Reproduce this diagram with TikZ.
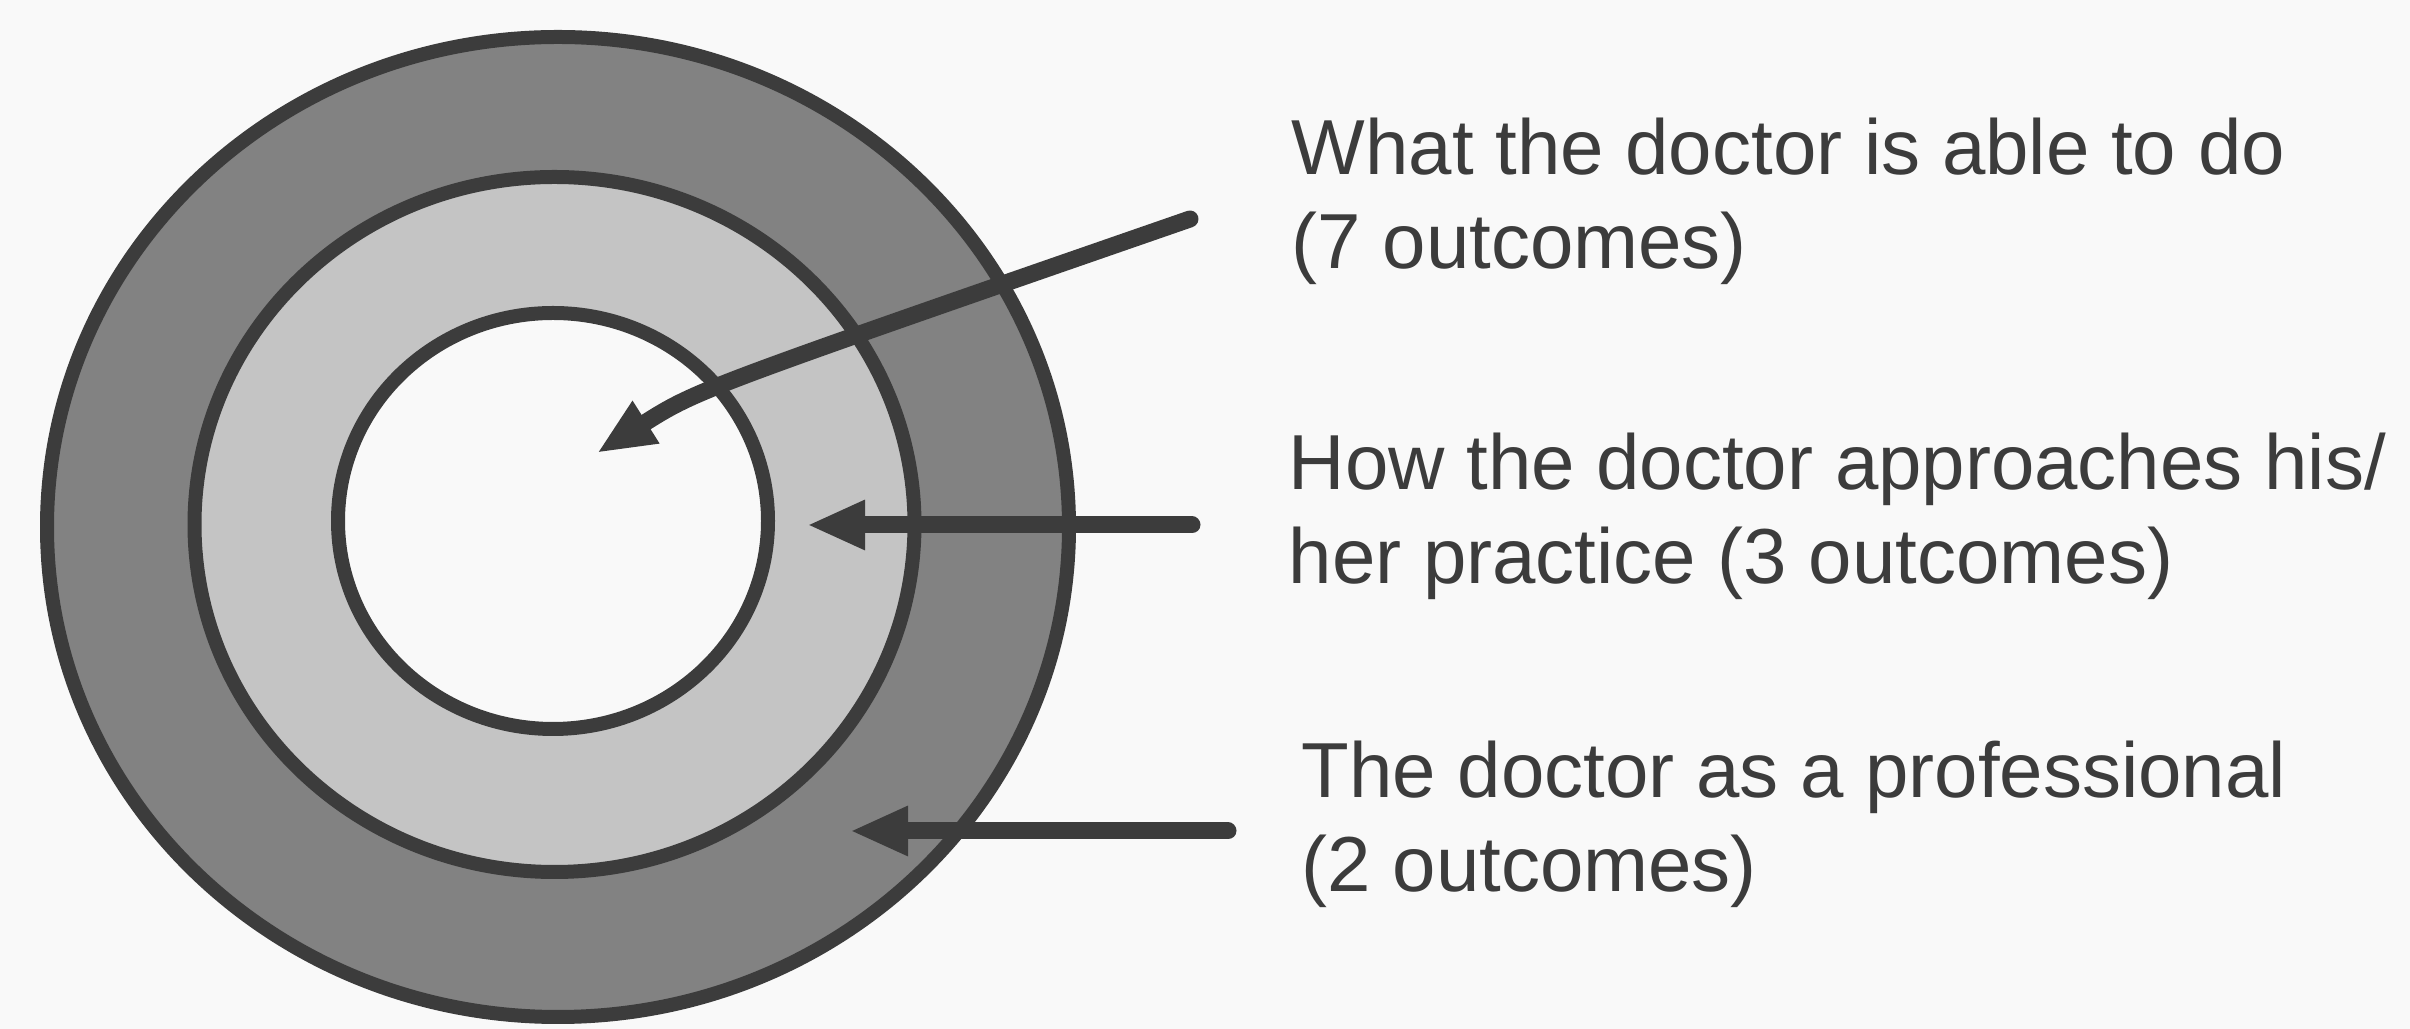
\documentclass[tikz,border=0pt]{standalone}
\usepackage{fontspec}
\setmainfont{Liberation Sans}
\usetikzlibrary{arrows.meta,shapes.geometric}
\definecolor{ink}{RGB}{60,60,60}
\definecolor{paper}{RGB}{249,249,249}
\definecolor{darkring}{RGB}{130,130,130}
\definecolor{lightring}{RGB}{196,196,196}

\begin{document}
\begin{tikzpicture}[>={Triangle[length=5.8mm,width=4.6mm]},
    ring/.style={draw=ink,line width=1.4mm,ellipse,inner sep=0pt},
    pointer/.style={->,draw=ink,line width=1.7mm,line cap=round},
    note/.style={anchor=north west,inner sep=0pt,align=left,text=ink,
      font=\fontsize{22.2}{26.7}\selectfont}]

    \fill[paper] (0,0) rectangle (24.1,-10.29);
    \useasboundingbox (0,0) rectangle (24.1,-10.29);

    % the three rings
    \node[ring,fill=darkring,minimum width=10.22cm,minimum height=9.80cm] (outer) at (5.58,-5.27) {};
    \node[ring,fill=lightring,minimum width=7.20cm,minimum height=6.95cm] (middle) at (5.545,-5.245) {};
    \node[ring,fill=paper,minimum width=4.30cm,minimum height=4.16cm] (inner) at (5.53,-5.21) {};

    % labels
    \node[note] (able) at (12.91,-1.17) {What the doctor is able to do\\(7 outcomes)};
    \node[note] (approach) at (12.88,-4.32) {How the doctor approaches his/\\her practice (3 outcomes)};
    \node[note] (prof) at (13.01,-7.40) {The doctor as a professional\\(2 outcomes)};

    \coordinate (abletail) at (11.90,-2.19);
    \coordinate (abletip) at (5.97,-4.53);
    \coordinate (approachtail) at (11.92,-5.25);
    \coordinate (approachtip) at (8.07,-5.25);
    \coordinate (proftail) at (12.28,-8.31);
    \coordinate (proftip) at (8.50,-8.31);

    \draw[pointer] (abletail) .. controls (6.97,-3.90) .. (abletip);
    \draw[pointer] (approachtail) -- (approachtip);
    \draw[pointer] (proftail) -- (proftip);
\end{tikzpicture}
\end{document}
